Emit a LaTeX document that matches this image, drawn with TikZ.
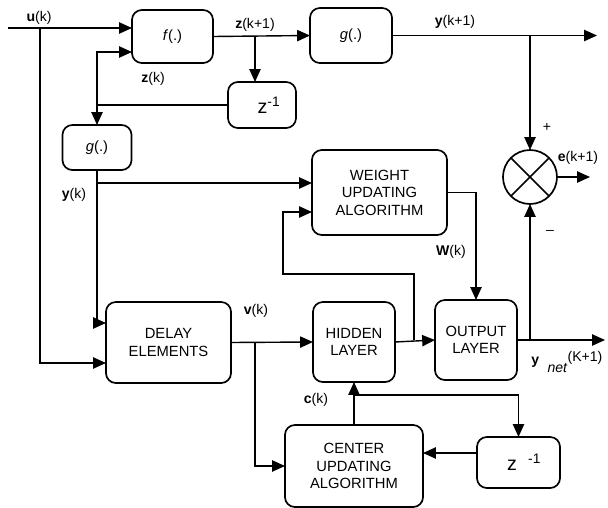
\documentclass[tikz,border=0pt]{standalone}
\usepackage{fontspec}
\setmainfont{Liberation Sans}
\usepackage{tikz}
\usetikzlibrary{positioning,arrows.meta,calc}

\begin{document}
\begin{tikzpicture}[
x=0.025cm, y=-0.025cm,
blk/.style={draw, line width=1.2pt, rounded corners=7pt, inner sep=0pt, outer sep=0pt, align=center, font=\fontsize{10.5}{12.5}\selectfont},
lbl/.style={font=\fontsize{10}{12}\selectfont, inner sep=0pt},
arrow/.style={-{Triangle[length=3.2mm,width=2.8mm]}, line width=1pt},
line/.style={line width=1pt}
]
\useasboundingbox (0,0) rectangle (608,508);

% blocks
\node[blk, minimum width=2.025cm, minimum height=1.325cm] (f) at (172.5,36.5) {\textit{f}(.)};
\node[blk, minimum width=2.05cm, minimum height=1.375cm] (gtop) at (351,35.5) {\textit{g}(.)};
\node[blk, minimum width=1.7cm, minimum height=1.15cm] (zinv) at (262,105) {\hspace{10pt}\fontsize{14}{16}\selectfont z\textsuperscript{-1}};
\node[blk, minimum width=1.725cm, minimum height=1.125cm] (gleft) at (97,147.5) {\textit{g}(.)};
\node[blk, minimum width=3.375cm, minimum height=2.125cm] (weight) at (379.5,192.5) {WEIGHT\\UPDATING\\ALGORITHM};
\node[draw, circle, line width=1.2pt, minimum size=1.35cm, inner sep=0pt, outer sep=0pt] (sum) at (530,177) {};
\draw[line width=1.2pt] (sum.45) -- (sum.225) (sum.135) -- (sum.315);
\node[blk, minimum width=3.125cm, minimum height=2.025cm] (delay) at (168.5,342.5) {DELAY\\ELEMENTS};
\node[blk, minimum width=2.05cm, minimum height=2cm] (hidden) at (354,342) {HIDDEN\\LAYER};
\node[blk, minimum width=2.05cm, minimum height=2cm] (output) at (476,340) {OUTPUT\\LAYER};
\node[blk, minimum width=3.45cm, minimum height=2.05cm] (center) at (354,466) {CENTER\\UPDATING\\ALGORITHM};
\node[blk, minimum width=2.075cm, minimum height=1.275cm] (zinvb) at (518.5,462.5) {\hspace{8pt}\fontsize{14}{16}\selectfont z\hspace{8pt}\textsuperscript{-1}};

% free ends and junctions
\coordinate (uin) at (8,28);
\coordinate (uj) at (40,28);
\coordinate (zj) at (255,35.5);
\coordinate (fj) at (97,105);
\coordinate (yk) at (97,183);
\coordinate (yout) at (597,35.5);
\coordinate (eout) at (590,177);
\coordinate (ynet) at (605,340);
\coordinate (hj) at (414,340);
\coordinate (fb) at (283,274);
\coordinate (vj) at (255,342);
\coordinate (cj) at (354,395);

% connectors
\draw[arrow] (uin) -- ($(f.west)+(0,-8.5)$);
\draw[arrow] (uj) |- ($(delay.west)+(0,20.5)$);
\draw[arrow] (f.east) -- (gtop.west);
\draw[arrow] (zj) -- (zj |- zinv.north);
\draw[line] (zinv.west) -- (fj);
\draw[arrow] (fj) |- ($(f.west)+(0,15.5)$);
\draw[arrow] (fj) -- (gleft.north);
\draw[arrow] (gleft.south) |- ($(delay.west)+(0,-19.5)$);
\draw[arrow] (yk) -- (yk -| weight.west);
\draw[arrow] (gtop.east) -- (yout);
\draw[arrow] (sum.north |- gtop.east) -- (sum.north);
\draw[arrow] (sum.east) -- (eout);
\draw[arrow] (weight.east) -| (output.north);
\draw[arrow] (delay.east) -- (hidden.west);
\draw[arrow] (vj) |- (center.west);
\draw[arrow] (hidden.east) -- (output.west);
\draw[arrow] (hj) |- (fb) |- ($(weight.west)+(0,19.5)$);
\draw[arrow] (output.east) -- (ynet);
\draw[arrow] (sum.south |- output.east) -- (sum.south);
\draw[arrow] (center.north) -- (hidden.south);
\draw[arrow] (cj) -| (zinvb.north);
\draw[arrow] ($(zinvb.west)+(0,-9.5)$) -- ($(center.east)+(0,-13)$);

% signal labels
\node[lbl] (ulbl) at (39,18) {\textbf{u}(k)};
\node[lbl] (zlbl) at (255,25) {\textbf{z}(k+1)};
\node[lbl] (zklbl) at (153,79) {\textbf{z}(k)};
\node[lbl] (ylbl) at (455,22) {\textbf{y}(k+1)};
\node[lbl] (plus) at (547,127) {+};
\node[lbl] (elbl) at (578,158) {\textbf{e}(k+1)};
\node[lbl] (minus) at (550,232) {\textendash};
\node[lbl] (yklbl) at (74,195) {\textbf{y}(k)};
\node[lbl] (wlbl) at (451,252) {\textbf{W}(k)};
\node[lbl] (vlbl) at (256,311) {\textbf{v}(k)};
\node[lbl] (clbl) at (316,400) {\textbf{c}(k)};
\node[lbl, anchor=west] (ynlbl) at (531,362) {\textbf{y}\hspace{6pt}\raisebox{-1.1ex}{\textit{net}}\raisebox{0.3ex}{(K+1)}};
\end{tikzpicture}
\end{document}
